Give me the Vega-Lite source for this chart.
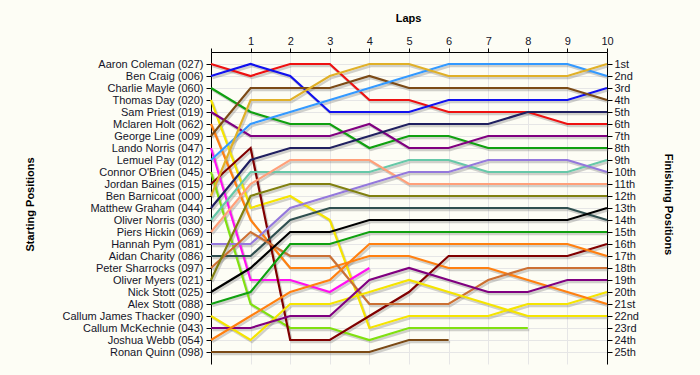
{
  "$schema": "https://vega.github.io/schema/vega-lite/v6.json",
  "width": 396,
  "height": 312,
  "autosize": {"type": "none"},
  "padding": {"left": 211, "top": 52, "right": 93, "bottom": 11},
  "background": "#FDFDF5",
  "config": {
    "view": {"stroke": null},
    "font": "Liberation Sans",
    "axis": {
      "labelFont": "Liberation Sans",
      "labelFontSize": 11,
      "labelColor": "#141428",
      "labelOverlap": false,
      "titleFont": "Liberation Sans",
      "titleFontSize": 11,
      "titleFontWeight": "bold",
      "titleColor": "#000000",
      "domainColor": "#000000",
      "tickColor": "#000000",
      "gridColor": "#E6E6E6",
      "gridWidth": 1
    },
    "axisX": {"labelOverlap": false},
    "axisTop": {"labelOverlap": false},
    "axisQuantitative": {"labelOverlap": false}
  },
  "data": {
    "values": [
      {"driver": "Aaron Coleman", "lap": 0, "position": 1}, {"driver": "Aaron Coleman", "lap": 1, "position": 2}, {"driver": "Aaron Coleman", "lap": 2, "position": 1}, {"driver": "Aaron Coleman", "lap": 3, "position": 1}, {"driver": "Aaron Coleman", "lap": 4, "position": 4}, {"driver": "Aaron Coleman", "lap": 5, "position": 4}, {"driver": "Aaron Coleman", "lap": 6, "position": 5}, {"driver": "Aaron Coleman", "lap": 7, "position": 5}, {"driver": "Aaron Coleman", "lap": 8, "position": 5}, {"driver": "Aaron Coleman", "lap": 9, "position": 6}, {"driver": "Aaron Coleman", "lap": 10, "position": 6},
      {"driver": "Ben Craig", "lap": 0, "position": 2}, {"driver": "Ben Craig", "lap": 1, "position": 1}, {"driver": "Ben Craig", "lap": 2, "position": 2}, {"driver": "Ben Craig", "lap": 3, "position": 5}, {"driver": "Ben Craig", "lap": 4, "position": 5}, {"driver": "Ben Craig", "lap": 5, "position": 5}, {"driver": "Ben Craig", "lap": 6, "position": 4}, {"driver": "Ben Craig", "lap": 7, "position": 4}, {"driver": "Ben Craig", "lap": 8, "position": 4}, {"driver": "Ben Craig", "lap": 9, "position": 4}, {"driver": "Ben Craig", "lap": 10, "position": 3},
      {"driver": "Charlie Mayle", "lap": 0, "position": 3}, {"driver": "Charlie Mayle", "lap": 1, "position": 5}, {"driver": "Charlie Mayle", "lap": 2, "position": 6}, {"driver": "Charlie Mayle", "lap": 3, "position": 6}, {"driver": "Charlie Mayle", "lap": 4, "position": 8}, {"driver": "Charlie Mayle", "lap": 5, "position": 7}, {"driver": "Charlie Mayle", "lap": 6, "position": 7}, {"driver": "Charlie Mayle", "lap": 7, "position": 8}, {"driver": "Charlie Mayle", "lap": 8, "position": 8}, {"driver": "Charlie Mayle", "lap": 9, "position": 8}, {"driver": "Charlie Mayle", "lap": 10, "position": 8},
      {"driver": "Thomas Day", "lap": 0, "position": 4}, {"driver": "Thomas Day", "lap": 1, "position": 13}, {"driver": "Thomas Day", "lap": 2, "position": 12}, {"driver": "Thomas Day", "lap": 3, "position": 14}, {"driver": "Thomas Day", "lap": 4, "position": 23}, {"driver": "Thomas Day", "lap": 5, "position": 22}, {"driver": "Thomas Day", "lap": 6, "position": 22}, {"driver": "Thomas Day", "lap": 7, "position": 22}, {"driver": "Thomas Day", "lap": 8, "position": 21}, {"driver": "Thomas Day", "lap": 9, "position": 21}, {"driver": "Thomas Day", "lap": 10, "position": 20},
      {"driver": "Sam Priest", "lap": 0, "position": 5}, {"driver": "Sam Priest", "lap": 1, "position": 7}, {"driver": "Sam Priest", "lap": 2, "position": 7}, {"driver": "Sam Priest", "lap": 3, "position": 7}, {"driver": "Sam Priest", "lap": 4, "position": 6}, {"driver": "Sam Priest", "lap": 5, "position": 8}, {"driver": "Sam Priest", "lap": 6, "position": 8}, {"driver": "Sam Priest", "lap": 7, "position": 7}, {"driver": "Sam Priest", "lap": 8, "position": 7}, {"driver": "Sam Priest", "lap": 9, "position": 7}, {"driver": "Sam Priest", "lap": 10, "position": 7},
      {"driver": "Mclaren Holt", "lap": 0, "position": 6}, {"driver": "Mclaren Holt", "lap": 1, "position": 14}, {"driver": "Mclaren Holt", "lap": 2, "position": 18}, {"driver": "Mclaren Holt", "lap": 3, "position": 18}, {"driver": "Mclaren Holt", "lap": 4, "position": 17}, {"driver": "Mclaren Holt", "lap": 5, "position": 17}, {"driver": "Mclaren Holt", "lap": 6, "position": 18}, {"driver": "Mclaren Holt", "lap": 7, "position": 18}, {"driver": "Mclaren Holt", "lap": 8, "position": 19}, {"driver": "Mclaren Holt", "lap": 9, "position": 20}, {"driver": "Mclaren Holt", "lap": 10, "position": 21},
      {"driver": "George Line", "lap": 0, "position": 7}, {"driver": "George Line", "lap": 1, "position": 3}, {"driver": "George Line", "lap": 2, "position": 3}, {"driver": "George Line", "lap": 3, "position": 3}, {"driver": "George Line", "lap": 4, "position": 2}, {"driver": "George Line", "lap": 5, "position": 3}, {"driver": "George Line", "lap": 6, "position": 3}, {"driver": "George Line", "lap": 7, "position": 3}, {"driver": "George Line", "lap": 8, "position": 3}, {"driver": "George Line", "lap": 9, "position": 3}, {"driver": "George Line", "lap": 10, "position": 4},
      {"driver": "Lando Norris", "lap": 0, "position": 8}, {"driver": "Lando Norris", "lap": 1, "position": 19}, {"driver": "Lando Norris", "lap": 2, "position": 19}, {"driver": "Lando Norris", "lap": 3, "position": 20}, {"driver": "Lando Norris", "lap": 4, "position": 18},
      {"driver": "Lemuel Pay", "lap": 0, "position": 9}, {"driver": "Lemuel Pay", "lap": 1, "position": 6}, {"driver": "Lemuel Pay", "lap": 2, "position": 5}, {"driver": "Lemuel Pay", "lap": 3, "position": 4}, {"driver": "Lemuel Pay", "lap": 4, "position": 3}, {"driver": "Lemuel Pay", "lap": 5, "position": 2}, {"driver": "Lemuel Pay", "lap": 6, "position": 1}, {"driver": "Lemuel Pay", "lap": 7, "position": 1}, {"driver": "Lemuel Pay", "lap": 8, "position": 1}, {"driver": "Lemuel Pay", "lap": 9, "position": 1}, {"driver": "Lemuel Pay", "lap": 10, "position": 2},
      {"driver": "Connor O'Brien", "lap": 0, "position": 10}, {"driver": "Connor O'Brien", "lap": 1, "position": 21}, {"driver": "Connor O'Brien", "lap": 2, "position": 23}, {"driver": "Connor O'Brien", "lap": 3, "position": 23}, {"driver": "Connor O'Brien", "lap": 4, "position": 24}, {"driver": "Connor O'Brien", "lap": 5, "position": 23}, {"driver": "Connor O'Brien", "lap": 6, "position": 23}, {"driver": "Connor O'Brien", "lap": 7, "position": 23}, {"driver": "Connor O'Brien", "lap": 8, "position": 23},
      {"driver": "Jordan Baines", "lap": 0, "position": 11}, {"driver": "Jordan Baines", "lap": 1, "position": 8}, {"driver": "Jordan Baines", "lap": 2, "position": 24}, {"driver": "Jordan Baines", "lap": 3, "position": 24}, {"driver": "Jordan Baines", "lap": 4, "position": 22}, {"driver": "Jordan Baines", "lap": 5, "position": 20}, {"driver": "Jordan Baines", "lap": 6, "position": 17}, {"driver": "Jordan Baines", "lap": 7, "position": 17}, {"driver": "Jordan Baines", "lap": 8, "position": 17}, {"driver": "Jordan Baines", "lap": 9, "position": 17}, {"driver": "Jordan Baines", "lap": 10, "position": 16},
      {"driver": "Ben Barnicoat", "lap": 0, "position": 12}, {"driver": "Ben Barnicoat", "lap": 1, "position": 4}, {"driver": "Ben Barnicoat", "lap": 2, "position": 4}, {"driver": "Ben Barnicoat", "lap": 3, "position": 2}, {"driver": "Ben Barnicoat", "lap": 4, "position": 1}, {"driver": "Ben Barnicoat", "lap": 5, "position": 1}, {"driver": "Ben Barnicoat", "lap": 6, "position": 2}, {"driver": "Ben Barnicoat", "lap": 7, "position": 2}, {"driver": "Ben Barnicoat", "lap": 8, "position": 2}, {"driver": "Ben Barnicoat", "lap": 9, "position": 2}, {"driver": "Ben Barnicoat", "lap": 10, "position": 1},
      {"driver": "Matthew Graham", "lap": 0, "position": 13}, {"driver": "Matthew Graham", "lap": 1, "position": 9}, {"driver": "Matthew Graham", "lap": 2, "position": 8}, {"driver": "Matthew Graham", "lap": 3, "position": 8}, {"driver": "Matthew Graham", "lap": 4, "position": 7}, {"driver": "Matthew Graham", "lap": 5, "position": 6}, {"driver": "Matthew Graham", "lap": 6, "position": 6}, {"driver": "Matthew Graham", "lap": 7, "position": 6}, {"driver": "Matthew Graham", "lap": 8, "position": 5}, {"driver": "Matthew Graham", "lap": 9, "position": 5}, {"driver": "Matthew Graham", "lap": 10, "position": 5},
      {"driver": "Oliver Norris", "lap": 0, "position": 14}, {"driver": "Oliver Norris", "lap": 1, "position": 10}, {"driver": "Oliver Norris", "lap": 2, "position": 10}, {"driver": "Oliver Norris", "lap": 3, "position": 10}, {"driver": "Oliver Norris", "lap": 4, "position": 10}, {"driver": "Oliver Norris", "lap": 5, "position": 9}, {"driver": "Oliver Norris", "lap": 6, "position": 9}, {"driver": "Oliver Norris", "lap": 7, "position": 10}, {"driver": "Oliver Norris", "lap": 8, "position": 10}, {"driver": "Oliver Norris", "lap": 9, "position": 10}, {"driver": "Oliver Norris", "lap": 10, "position": 9},
      {"driver": "Piers Hickin", "lap": 0, "position": 15}, {"driver": "Piers Hickin", "lap": 1, "position": 11}, {"driver": "Piers Hickin", "lap": 2, "position": 9}, {"driver": "Piers Hickin", "lap": 3, "position": 9}, {"driver": "Piers Hickin", "lap": 4, "position": 9}, {"driver": "Piers Hickin", "lap": 5, "position": 11}, {"driver": "Piers Hickin", "lap": 6, "position": 11}, {"driver": "Piers Hickin", "lap": 7, "position": 11}, {"driver": "Piers Hickin", "lap": 8, "position": 11}, {"driver": "Piers Hickin", "lap": 9, "position": 11}, {"driver": "Piers Hickin", "lap": 10, "position": 11},
      {"driver": "Hannah Pym", "lap": 0, "position": 16}, {"driver": "Hannah Pym", "lap": 1, "position": 16}, {"driver": "Hannah Pym", "lap": 2, "position": 13}, {"driver": "Hannah Pym", "lap": 3, "position": 12}, {"driver": "Hannah Pym", "lap": 4, "position": 11}, {"driver": "Hannah Pym", "lap": 5, "position": 10}, {"driver": "Hannah Pym", "lap": 6, "position": 10}, {"driver": "Hannah Pym", "lap": 7, "position": 9}, {"driver": "Hannah Pym", "lap": 8, "position": 9}, {"driver": "Hannah Pym", "lap": 9, "position": 9}, {"driver": "Hannah Pym", "lap": 10, "position": 10},
      {"driver": "Aidan Charity", "lap": 0, "position": 17}, {"driver": "Aidan Charity", "lap": 1, "position": 17}, {"driver": "Aidan Charity", "lap": 2, "position": 14}, {"driver": "Aidan Charity", "lap": 3, "position": 13}, {"driver": "Aidan Charity", "lap": 4, "position": 13}, {"driver": "Aidan Charity", "lap": 5, "position": 13}, {"driver": "Aidan Charity", "lap": 6, "position": 13}, {"driver": "Aidan Charity", "lap": 7, "position": 13}, {"driver": "Aidan Charity", "lap": 8, "position": 13}, {"driver": "Aidan Charity", "lap": 9, "position": 13}, {"driver": "Aidan Charity", "lap": 10, "position": 14},
      {"driver": "Peter Sharrocks", "lap": 0, "position": 18}, {"driver": "Peter Sharrocks", "lap": 1, "position": 15}, {"driver": "Peter Sharrocks", "lap": 2, "position": 17}, {"driver": "Peter Sharrocks", "lap": 3, "position": 17}, {"driver": "Peter Sharrocks", "lap": 4, "position": 21}, {"driver": "Peter Sharrocks", "lap": 5, "position": 21}, {"driver": "Peter Sharrocks", "lap": 6, "position": 21}, {"driver": "Peter Sharrocks", "lap": 7, "position": 19}, {"driver": "Peter Sharrocks", "lap": 8, "position": 18}, {"driver": "Peter Sharrocks", "lap": 9, "position": 18}, {"driver": "Peter Sharrocks", "lap": 10, "position": 18},
      {"driver": "Oliver Myers", "lap": 0, "position": 19}, {"driver": "Oliver Myers", "lap": 1, "position": 12}, {"driver": "Oliver Myers", "lap": 2, "position": 11}, {"driver": "Oliver Myers", "lap": 3, "position": 11}, {"driver": "Oliver Myers", "lap": 4, "position": 12}, {"driver": "Oliver Myers", "lap": 5, "position": 12}, {"driver": "Oliver Myers", "lap": 6, "position": 12}, {"driver": "Oliver Myers", "lap": 7, "position": 12}, {"driver": "Oliver Myers", "lap": 8, "position": 12}, {"driver": "Oliver Myers", "lap": 9, "position": 12}, {"driver": "Oliver Myers", "lap": 10, "position": 12},
      {"driver": "Nick Stott", "lap": 0, "position": 20}, {"driver": "Nick Stott", "lap": 1, "position": 18}, {"driver": "Nick Stott", "lap": 2, "position": 15}, {"driver": "Nick Stott", "lap": 3, "position": 15}, {"driver": "Nick Stott", "lap": 4, "position": 14}, {"driver": "Nick Stott", "lap": 5, "position": 14}, {"driver": "Nick Stott", "lap": 6, "position": 14}, {"driver": "Nick Stott", "lap": 7, "position": 14}, {"driver": "Nick Stott", "lap": 8, "position": 14}, {"driver": "Nick Stott", "lap": 9, "position": 14}, {"driver": "Nick Stott", "lap": 10, "position": 13},
      {"driver": "Alex Stott", "lap": 0, "position": 21}, {"driver": "Alex Stott", "lap": 1, "position": 20}, {"driver": "Alex Stott", "lap": 2, "position": 16}, {"driver": "Alex Stott", "lap": 3, "position": 16}, {"driver": "Alex Stott", "lap": 4, "position": 15}, {"driver": "Alex Stott", "lap": 5, "position": 15}, {"driver": "Alex Stott", "lap": 6, "position": 15}, {"driver": "Alex Stott", "lap": 7, "position": 15}, {"driver": "Alex Stott", "lap": 8, "position": 15}, {"driver": "Alex Stott", "lap": 9, "position": 15}, {"driver": "Alex Stott", "lap": 10, "position": 15},
      {"driver": "Callum James Thacker", "lap": 0, "position": 22}, {"driver": "Callum James Thacker", "lap": 1, "position": 24}, {"driver": "Callum James Thacker", "lap": 2, "position": 21}, {"driver": "Callum James Thacker", "lap": 3, "position": 21}, {"driver": "Callum James Thacker", "lap": 4, "position": 20}, {"driver": "Callum James Thacker", "lap": 5, "position": 19}, {"driver": "Callum James Thacker", "lap": 6, "position": 20}, {"driver": "Callum James Thacker", "lap": 7, "position": 21}, {"driver": "Callum James Thacker", "lap": 8, "position": 22}, {"driver": "Callum James Thacker", "lap": 9, "position": 22}, {"driver": "Callum James Thacker", "lap": 10, "position": 22},
      {"driver": "Callum McKechnie", "lap": 0, "position": 23}, {"driver": "Callum McKechnie", "lap": 1, "position": 23}, {"driver": "Callum McKechnie", "lap": 2, "position": 22}, {"driver": "Callum McKechnie", "lap": 3, "position": 22}, {"driver": "Callum McKechnie", "lap": 4, "position": 19}, {"driver": "Callum McKechnie", "lap": 5, "position": 18}, {"driver": "Callum McKechnie", "lap": 6, "position": 19}, {"driver": "Callum McKechnie", "lap": 7, "position": 20}, {"driver": "Callum McKechnie", "lap": 8, "position": 20}, {"driver": "Callum McKechnie", "lap": 9, "position": 19}, {"driver": "Callum McKechnie", "lap": 10, "position": 19},
      {"driver": "Joshua Webb", "lap": 0, "position": 24}, {"driver": "Joshua Webb", "lap": 1, "position": 22}, {"driver": "Joshua Webb", "lap": 2, "position": 20}, {"driver": "Joshua Webb", "lap": 3, "position": 19}, {"driver": "Joshua Webb", "lap": 4, "position": 16}, {"driver": "Joshua Webb", "lap": 5, "position": 16}, {"driver": "Joshua Webb", "lap": 6, "position": 16}, {"driver": "Joshua Webb", "lap": 7, "position": 16}, {"driver": "Joshua Webb", "lap": 8, "position": 16}, {"driver": "Joshua Webb", "lap": 9, "position": 16}, {"driver": "Joshua Webb", "lap": 10, "position": 17},
      {"driver": "Ronan Quinn", "lap": 0, "position": 25}, {"driver": "Ronan Quinn", "lap": 1, "position": 25}, {"driver": "Ronan Quinn", "lap": 2, "position": 25}, {"driver": "Ronan Quinn", "lap": 3, "position": 25}, {"driver": "Ronan Quinn", "lap": 4, "position": 25}, {"driver": "Ronan Quinn", "lap": 5, "position": 24}, {"driver": "Ronan Quinn", "lap": 6, "position": 24}
    ]
  },
  "encoding": {
    "x": {"field": "lap", "type": "ordinal", "scale": {"type": "point", "padding": 0},
      "axis": {"orient": "top", "labelAngle": 0, "labelOverlap": false, "labelExpr": "datum.value == 0 ? '' : '' + datum.value", "title": "Laps", "titleX": 197, "titleY": -34, "titleBaseline": "middle", "grid": true, "tickSize": 4, "labelPadding": 2}}
  },
  "resolve": {"axis": {"y": "independent"}},
  "layer": [
    {
      "mark": {"type": "line", "color": "#7a7a7a", "opacity": 0.35, "strokeWidth": 2.4, "xOffset": 1.5, "yOffset": 2, "clip": false},
      "encoding": {
        "y": {"field": "position", "type": "quantitative", "scale": {"domain": [0, 26], "reverse": true, "nice": false, "zero": false},
          "axis": {"orient": "left", "values": [1,2,3,4,5,6,7,8,9,10,11,12,13,14,15,16,17,18,19,20,21,22,23,24,25], "labelOverlap": false, "grid": true, "tickSize": 5, "labelPadding": 3,
            "labelExpr": "['', 'Aaron Coleman (027)', 'Ben Craig (006)', 'Charlie Mayle (060)', 'Thomas Day (020)', 'Sam Priest (019)', 'Mclaren Holt (062)', 'George Line (009)', 'Lando Norris (047)', 'Lemuel Pay (012)', \"Connor O'Brien (045)\", 'Jordan Baines (015)', 'Ben Barnicoat (000)', 'Matthew Graham (044)', 'Oliver Norris (030)', 'Piers Hickin (069)', 'Hannah Pym (081)', 'Aidan Charity (086)', 'Peter Sharrocks (097)', 'Oliver Myers (021)', 'Nick Stott (025)', 'Alex Stott (088)', 'Callum James Thacker (090)', 'Callum McKechnie (043)', 'Joshua Webb (054)', 'Ronan Quinn (098)'][datum.value]",
            "title": "Starting Positions", "titleAngle": 270, "titleX": -181, "titleY": 152, "titleAlign": "center", "titleBaseline": "middle"}},
        "detail": {"field": "driver", "type": "nominal"},
        "order": {"field": "lap", "type": "quantitative"}
      }
    },
    {
      "mark": {"type": "line", "strokeWidth": 2.2, "clip": false},
      "encoding": {
        "y": {"field": "position", "type": "quantitative",
          "axis": {"orient": "right", "values": [1,2,3,4,5,6,7,8,9,10,11,12,13,14,15,16,17,18,19,20,21,22,23,24,25], "labelOverlap": false, "grid": false, "tickSize": 5, "labelPadding": 2,
            "labelExpr": "datum.value + ((datum.value % 10 == 1 && datum.value != 11) ? 'st' : (datum.value % 10 == 2 && datum.value != 12) ? 'nd' : (datum.value % 10 == 3 && datum.value != 13) ? 'rd' : 'th')",
            "title": "Finishing Positions", "titleAngle": 90, "titleX": 60, "titleY": 152, "titleAlign": "center", "titleBaseline": "middle"}},
        "color": {"field": "driver", "type": "nominal", "legend": null,
          "scale": {
            "domain": ["Aaron Coleman", "Ben Craig", "Charlie Mayle", "Thomas Day", "Sam Priest", "Mclaren Holt", "George Line", "Lando Norris", "Lemuel Pay", "Connor O'Brien", "Jordan Baines", "Ben Barnicoat", "Matthew Graham", "Oliver Norris", "Piers Hickin", "Hannah Pym", "Aidan Charity", "Peter Sharrocks", "Oliver Myers", "Nick Stott", "Alex Stott", "Callum James Thacker", "Callum McKechnie", "Joshua Webb", "Ronan Quinn"],
            "range": ["#EE1111", "#1111EE", "#10A010", "#F5E400", "#800080", "#FF8010", "#7B4A16", "#FF10F0", "#3399FF", "#80E010", "#800000", "#E0B028", "#202060", "#66C8A8", "#FFA07A", "#9478DC", "#2F4F4F", "#CC7033", "#808010", "#000000", "#10A010", "#F5E400", "#800080", "#FF8010", "#7B4A16"]
          }},
        "order": {"field": "lap", "type": "quantitative"}
      }
    }
  ]
}
